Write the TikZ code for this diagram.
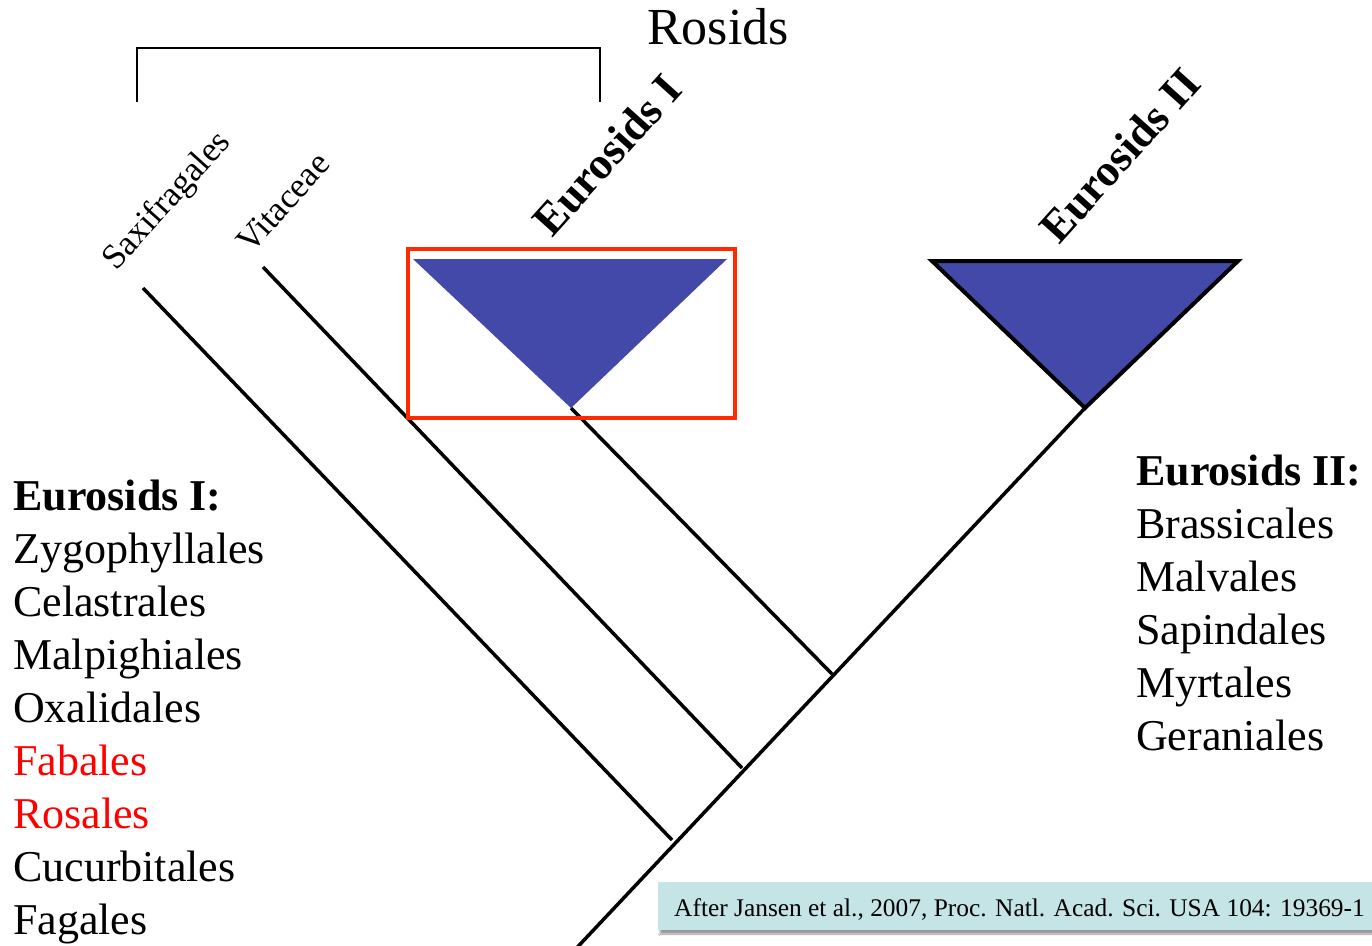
\documentclass[tikz,border=0pt]{standalone}
\usepackage{fontspec}
\setmainfont{Liberation Serif}
\usetikzlibrary{shadows.blur}
\definecolor{triblue}{RGB}{67,73,168}
\definecolor{boxred}{RGB}{255,42,0}
\definecolor{citebg}{RGB}{196,228,230}
\begin{document}
\begin{tikzpicture}[x=1pt,y=-1pt,
  branch/.style={line width=3.5pt, line cap=butt},
  bracketline/.style={line width=2pt},
  listtext/.style={inner sep=0pt, anchor=base west, font=\fontsize{44}{53}\selectfont},
  listhead/.style={listtext, font=\fontsize{44}{53}\selectfont\bfseries},
  taxon/.style={inner sep=0pt, anchor=base west, rotate=48, font=\fontsize{35}{40}\selectfont},
  clade/.style={inner sep=0pt, anchor=base west, rotate=48, font=\fontsize{45}{50}\selectfont\bfseries},
  cite/.style={inner sep=0pt, anchor=base west, font=\fontsize{25.4}{28}\selectfont}]
\useasboundingbox (0,0) rectangle (1372,945);
\clip (0,0) rectangle (1372,945);
\fill[white] (0,0) rectangle (1372,945);

% junctions
\coordinate (root) at (570,955);
\coordinate (j1) at (672,840);
\coordinate (j2) at (742,768);
\coordinate (j3) at (832,674);
\coordinate (j4) at (1085,408);
\coordinate (saxtip) at (143,288);
\coordinate (vittip) at (263,267);
\coordinate (e1tip) at (571,408);

% Rosids bracket
\coordinate (bl) at (137,102);
\coordinate (br) at (600,102);
\draw[bracketline] (bl) |- (368,48) -| (br);
\node[inner sep=0pt, anchor=base west, font=\fontsize{52}{60}\selectfont] (rosids) at (647,44) {Rosids};

% branches
\draw[branch] (root) -- (j4);
\draw[branch] (saxtip) -- (j1);
\draw[branch] (vittip) -- (j2);
\draw[branch] (e1tip) -- (j3);

% Eurosids I triangle and red box
\fill[triblue] (413,259) -- (727,259) -- (e1tip) -- cycle;
\node[draw=boxred, line width=4pt, minimum width=327pt, minimum height=169pt, inner sep=0pt] (e1box) at (571.5,333.5) {};

% Eurosids II triangle
\draw[fill=triblue, line width=4pt, line join=miter] (932,261) -- (1238,261) -- (j4) -- cycle;

% rotated labels
\node[taxon] (sax) at (116,272) {Saxifragales};
\node[taxon] (vit) at (251,255) {Vitaceae};
\node[clade] (e1lab) at (552,239) {Eurosids I};
\node[clade] (e2lab) at (1059,246) {Eurosids II};

% left list
\node[listhead] (l0) at (13,510) {Eurosids I:};
\node[listtext] (l1) at (13,563) {Zygophyllales};
\node[listtext] (l2) at (13,616) {Celastrales};
\node[listtext] (l3) at (13,669) {Malpighiales};
\node[listtext] (l4) at (13,722) {Oxalidales};
\node[listtext, text=red] (l5) at (13,775) {Fabales};
\node[listtext, text=red] (l6) at (13,828) {Rosales};
\node[listtext] (l7) at (13,881) {Cucurbitales};
\node[listtext] (l8) at (13,934) {Fagales};

% right list
\node[listhead] (r0) at (1136,485) {Eurosids II:};
\node[listtext] (r1) at (1136,538) {Brassicales};
\node[listtext] (r2) at (1136,591) {Malvales};
\node[listtext] (r3) at (1136,644) {Sapindales};
\node[listtext] (r4) at (1136,697) {Myrtales};
\node[listtext] (r5) at (1136,750) {Geraniales};

% citation
\fill[citebg, blur shadow={shadow xshift=2pt, shadow yshift=-4pt, shadow blur steps=6}] (658,882) rectangle (1400,930);
\node[cite] (citetext) at (674,916) {After Jansen et al., 2007, Proc. Natl. Acad. Sci. USA 104: 19369-1};
\end{tikzpicture}
\end{document}
